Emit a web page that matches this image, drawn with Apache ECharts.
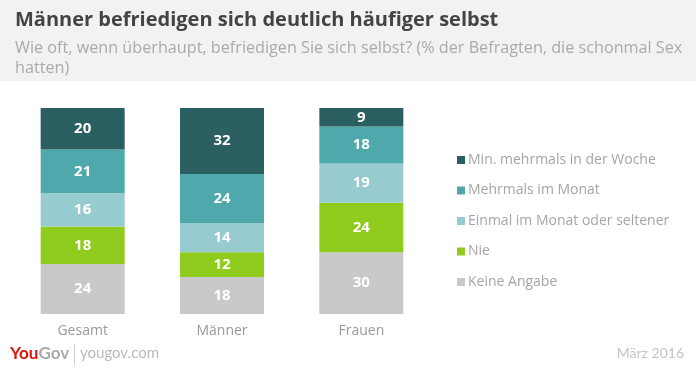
<!DOCTYPE html>
<html><head><meta charset="utf-8">
<script src="https://cdn.jsdelivr.net/npm/echarts@6/dist/echarts.min.js"></script>
<style>html,body{margin:0;padding:0;background:#fff}#c{width:696px;height:368px}</style>
</head><body><div id="c"></div>
<script>
var categories = ['Gesamt', 'Männer', 'Frauen'];
var seriesNames = ['Keine Angabe', 'Nie', 'Einmal im Monat oder seltener', 'Mehrmals im Monat', 'Min. mehrmals in der Woche'];
var keineAngabe = [24, 18, 30];
var nie = [18, 12, 24];
var einmal = [16, 14, 19];
var mehrmalsMonat = [21, 24, 18];
var minWoche = [20, 32, 9];
var colors = ['#c9c9c9', '#8fcc1d', '#97cbcf', '#4fa8ac', '#2c5f62'];

var raw = [keineAngabe, nie, einmal, mehrmalsMonat, minWoche];
var totals = categories.map(function (_, i) {
  return raw.reduce(function (s, arr) { return s + arr[i]; }, 0);
});
var FONT = 'Lato, "Open Sans", sans-serif';
var OS = '"Open Sans", sans-serif';
var chart = echarts.init(document.getElementById('c'));
var series = raw.map(function (arr, k) {
  return {
    name: seriesNames[k], type: 'bar', stack: 'all', barWidth: 84,
    itemStyle: { color: colors[k] },
    label: {
      show: true, position: 'inside', color: '#fff', fontWeight: 'bold',
      fontSize: 15, fontFamily: OS,
      formatter: function (p) { return arr[p.dataIndex]; }
    },
    data: arr.map(function (v, i) { return v / totals[i] * 100; })
  };
});
chart.setOption({
  backgroundColor: '#fff',
  animation: false,
  title: [{
    text: 'Männer befriedigen sich deutlich häufiger selbst',
    left: 10, top: 5,
    textStyle: { fontFamily: OS, fontWeight: 'bold', fontSize: 20, color: '#444' }
  }, {
    text: 'Wie oft, wenn überhaupt, befriedigen Sie sich selbst? (% der Befragten, die schonmal Sex\nhatten)',
    left: 10, top: 33,
    textStyle: { fontFamily: OS, fontWeight: 'normal', fontSize: 16.2, lineHeight: 20, color: '#aaa' }
  }],
  graphic: [
    { type: 'rect', z: -10, shape: { x: 0, y: 0, width: 696, height: 81 }, style: { fill: '#f2f2f2' } },
    { type: 'text', left: 10, top: 345, style: {
        text: '{a|You}{b|Gov}',
        rich: {
          a: { fill: '#e3120b', font: 'bold 17px ' + FONT },
          b: { fill: '#aaa', font: 'bold 17px ' + FONT }
        } } },
    { type: 'rect', shape: { x: 74, y: 344, width: 1, height: 21 }, style: { fill: '#ccc' } },
    { type: 'text', left: 80, top: 346, style: { text: 'yougov.com', fill: '#bbb', font: '15px ' + FONT } },
    { type: 'text', right: 12, top: 346, style: { text: 'März 2016', fill: '#c4c4c4', font: '14px ' + FONT } }
  ],
  legend: {
    data: seriesNames.slice().reverse(),
    orient: 'vertical', left: 452, top: 148,
    itemWidth: 8, itemHeight: 8, itemGap: 16.5, icon: 'rect',
    textStyle: { fontFamily: OS, fontSize: 14, color: '#a5a5a5', padding: [0, 0, 0, -2] }
  },
  grid: { left: 13, top: 108, width: 418, height: 206 },
  xAxis: {
    type: 'category', data: categories,
    axisLine: { show: false }, axisTick: { show: false },
    axisLabel: { fontFamily: OS, fontSize: 14, color: '#999', margin: 10 }
  },
  yAxis: { type: 'value', min: 0, max: 100, show: false },
  series: series
});
</script></body></html>
